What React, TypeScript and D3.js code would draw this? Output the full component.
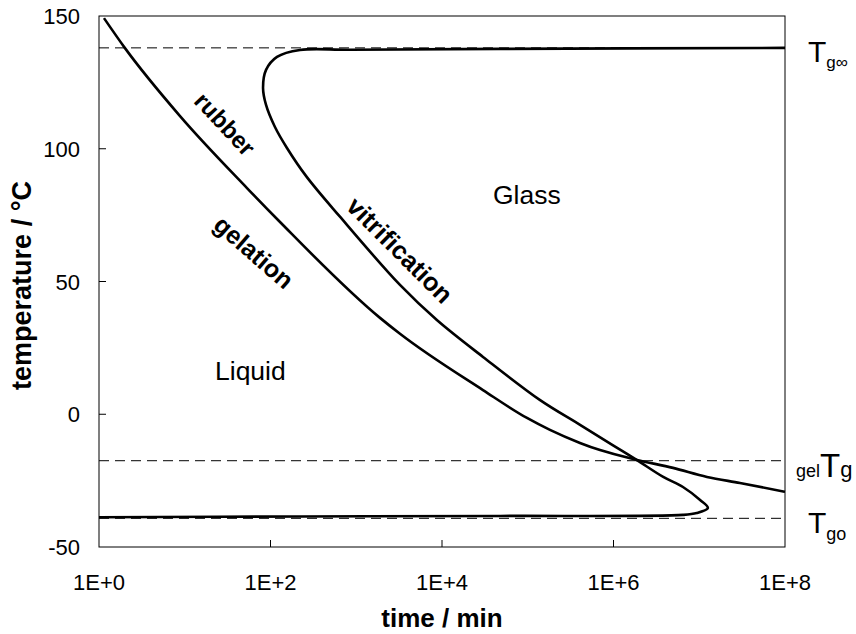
import React from "react";
import * as d3 from "d3";

// x values are log10(time / min)
const gelLogTime = [0.058, 0.303, 0.945, 1.726, 2.111, 3.277, 3.51, 4.478, 4.991, 5.259, 5.609, 5.843, 6.274, 6.694, 7.09, 7.475, 8.0];
const gelTemp = [149.2, 137.9, 112.3, 85.2, 72.4, 36.3, 30.3, 9.1, -1.4, -5.9, -10.8, -13.5, -17.2, -20.2, -23.6, -25.9, -29.2];

const vitLogTime = [0, 2.34, 4.68, 6.81, 6.97, 7.1, 7.01, 6.81, 6.58, 6.27, 5.99, 5.61, 5.14, 4.478, 3.94, 3.51, 2.81, 2.42, 2.192, 2.052, 1.948, 1.913, 1.948, 2.076, 2.344, 2.93, 4.68, 8.0];
const vitTemp = [-38.8, -38.5, -38.3, -37.9, -37.2, -35.3, -32.3, -27.4, -23.6, -17.2, -11.6, -4.0, 5.4, 21.6, 35.5, 48.7, 74.4, 89.5, 100.3, 108.2, 116.5, 122.9, 129.7, 134.6, 137.2, 137.3, 137.6, 138];

const refTemps = [138, -17.5, -39.2];
const xTickExp = [0, 2, 4, 6, 8];
const xTickLabels = ["1E+0", "1E+2", "1E+4", "1E+6", "1E+8"];
const yTicks = [-50, 0, 50, 100, 150];

const W = 856;
const H = 634;
const M = { left: 99, right: 785, top: 16, bottom: 547 };
const FONT = "'Liberation Sans', Arial, Helvetica, sans-serif";

export default function App() {
  const x = d3.scaleLog().domain([1, 1e8]).range([M.left, M.right]);
  const y = d3.scaleLinear().domain([-50, 150]).range([M.bottom, M.top]);

  const gelLine = d3
    .line<[number, number]>()
    .x((d) => x(Math.pow(10, d[0])))
    .y((d) => y(d[1]))
    .curve(d3.curveMonotoneX);

  const vitLine = d3
    .line<[number, number]>()
    .x((d) => x(Math.pow(10, d[0])))
    .y((d) => y(d[1]))
    .curve(d3.curveCatmullRom.alpha(0.5));

  const gelData: [number, number][] = gelLogTime.map((t, i) => [t, gelTemp[i]]);
  const vitData: [number, number][] = vitLogTime.map((t, i) => [t, vitTemp[i]]);

  return (
    <>
      <style>{`body{margin:0}`}</style>
      <svg width={W} height={H} style={{ display: "block", background: "#fff" }} fontFamily={FONT}>
        {/* reference dashed lines */}
        {refTemps.map((t, i) => (
          <line key={i} x1={M.left} x2={M.right} y1={y(t)} y2={y(t)} stroke="#000" strokeWidth={1} strokeDasharray="10,6" />
        ))}

        {/* curves */}
        <path d={gelLine(gelData) || ""} fill="none" stroke="#000" strokeWidth={2.6} strokeLinejoin="round" />
        <path d={vitLine(vitData) || ""} fill="none" stroke="#000" strokeWidth={2.6} strokeLinejoin="round" />

        {/* frame */}
        <rect x={M.left} y={M.top} width={M.right - M.left} height={M.bottom - M.top} fill="none" stroke="#000" strokeWidth={1} />

        {/* y ticks */}
        {yTicks.map((v) => (
          <g key={v}>
            {v > -50 && v < 150 && <line x1={M.left} x2={M.left + 7} y1={y(v)} y2={y(v)} stroke="#000" strokeWidth={1} />}
            <text x={80} y={y(v) + 8} textAnchor="end" fontSize={22} fill="#000">
              {v}
            </text>
          </g>
        ))}

        {/* x ticks */}
        {xTickExp.map((e, i) => (
          <g key={e}>
            {e > 0 && e < 8 && (
              <line x1={x(Math.pow(10, e))} x2={x(Math.pow(10, e))} y1={M.bottom} y2={M.bottom - 7} stroke="#000" strokeWidth={1} />
            )}
            <text x={x(Math.pow(10, e))} y={590} textAnchor="middle" fontSize={22} fill="#000">
              {xTickLabels[i]}
            </text>
          </g>
        ))}

        {/* axis titles */}
        <text x={442} y={627} textAnchor="middle" fontSize={26} fontWeight="bold" fill="#000">
          time / min
        </text>
        <text transform={`translate(31,${(M.top + M.bottom) / 2 + 4}) rotate(-90)`} textAnchor="middle" fontSize={27} fontWeight="bold" fill="#000">
          temperature / °C
        </text>

        {/* region labels */}
        <text x={493} y={204} fontSize={26.5} fill="#000">Glass</text>
        <text x={215} y={380} fontSize={26.5} fill="#000">Liquid</text>

        {/* curve labels */}
        <text transform="translate(225,124) rotate(47)" textAnchor="middle" dominantBaseline="central" fontSize={24} fontWeight="bold" fill="#000">
          rubber
        </text>
        <text transform="translate(254,252) rotate(41)" textAnchor="middle" dominantBaseline="central" fontSize={25} fontWeight="bold" fill="#000">
          gelation
        </text>
        <text transform="translate(400,250) rotate(45)" textAnchor="middle" dominantBaseline="central" fontSize={25.5} fontWeight="bold" fill="#000">
          vitrification
        </text>

        {/* right labels */}
        <text x={808} y={62} fontSize={30} fill="#000">
          T<tspan fontSize={17} dy={6}>g∞</tspan>
        </text>
        <text x={796} y={477} fontSize={18} fill="#000">
          gel<tspan fontSize={33}>T</tspan><tspan fontSize={22}>g</tspan>
        </text>
        <text x={808} y={533} fontSize={30} fill="#000">
          T<tspan fontSize={18} dy={7}>go</tspan>
        </text>
      </svg>
    </>
  );
}
